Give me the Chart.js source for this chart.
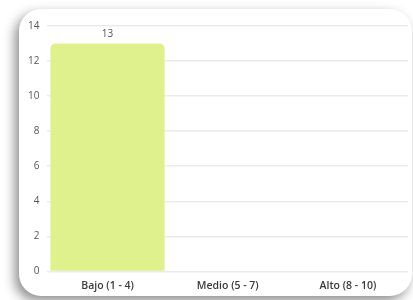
<!DOCTYPE html>
<html>
<head>
<meta charset="utf-8">
<script src="https://cdn.jsdelivr.net/npm/chart.js@4"></script>
<style>
  html, body { margin: 0; padding: 0; background: #ffffff; }
  body { width: 413px; height: 300px; position: relative; overflow: hidden; }
  .card {
    position: absolute; left: 19px; top: 9px; width: 393px; height: 287px;
    background: #fff; border-radius: 22px;
    box-shadow: -4px 5px 12px rgba(0, 0, 0, 0.45);
  }
  #chart { position: absolute; left: 0; top: 0; }
</style>
</head>
<body>
<div class="card"></div>
<canvas id="chart" width="413" height="300"></canvas>
<script>
const categories = ['Bajo (1 - 4)', 'Medio (5 - 7)', 'Alto (8 - 10)'];
const counts = [13, 0, 0];
const yMax = 14;

// draws the value above each bar
const valueLabels = {
    id: 'valueLabels',
    afterDatasetsDraw(chart) {
        const ctx = chart.ctx;
        const meta = chart.getDatasetMeta(0);
        ctx.save();
        ctx.font = '10px "Open Sans"';
        ctx.fillStyle = '#555';
        ctx.textAlign = 'center';
        ctx.textBaseline = 'bottom';
        meta.data.forEach((bar, i) => {
            if (counts[i] > 0) ctx.fillText(counts[i], bar.x, bar.y - 4);
        });
        ctx.restore();
    }
};

const ctx = document.getElementById('chart').getContext('2d');
const chart = new Chart(ctx, {
    type: 'bar',
    data: {
        labels: categories,
        datasets: [{
            data: counts,
            backgroundColor: '#def18d',
            borderWidth: 0,
            borderRadius: { topLeft: 5, topRight: 5 },
            borderSkipped: 'bottom',
            categoryPercentage: 1,
            barPercentage: 0.95
        }]
    },
    options: {
        responsive: false,
        animation: false,
        layout: { padding: { left: 20, right: 5, top: 26, bottom: 8 } },
        plugins: { legend: { display: false }, tooltip: { enabled: false } },
        scales: {
            x: {
                grid: { display: false },
                border: { display: false },
                ticks: { color: '#3a3a3a', padding: 0, font: { family: 'Open Sans', size: 10.5, weight: 600 } }
            },
            y: {
                min: 0,
                max: yMax,
                grid: { color: '#ebebeb', lineWidth: 1.5, drawTicks: false },
                border: { display: false },
                ticks: { stepSize: 2, color: '#555', padding: 8, font: { family: 'Open Sans', size: 10 } }
            }
        }
    },
    plugins: [valueLabels]
});
</script>
</body>
</html>
